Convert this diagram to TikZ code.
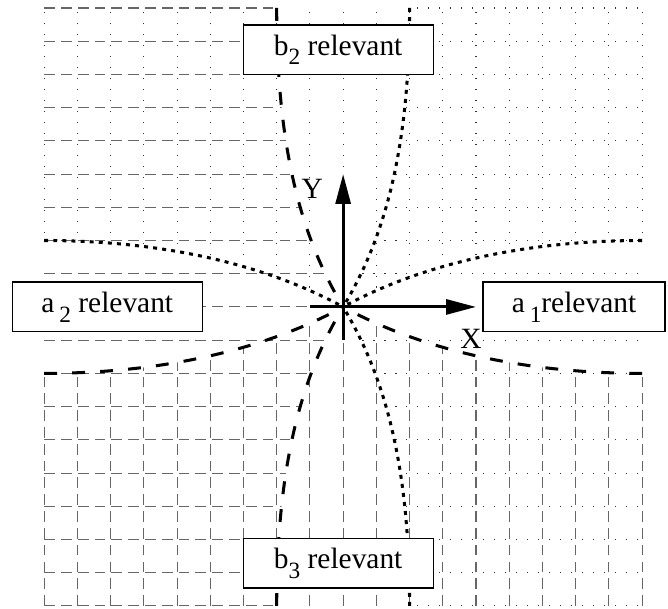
\documentclass[tikz,border=0pt]{standalone}
\usepackage{fontspec}
\setmainfont{Liberation Serif}
\usetikzlibrary{arrows.meta}
\newcommand{\subidx}[1]{\raisebox{-4.2pt}{\fontsize{10}{10}\selectfont #1}}
\begin{document}
\begin{tikzpicture}[x=0.5cm, y=0.5cm, >={Triangle[length=12.8pt,width=6.4pt]},
  font=\fontsize{12.6}{14}\selectfont,
  box/.style={draw, rectangle, fill=white, line width=0.5pt, minimum height=0.75cm, inner sep=0pt},
  griddash/.style={black!60, line width=0.45pt, dash pattern=on 4.6pt off 2.6pt},
  griddot/.style={black!80, line width=0.45pt, dash pattern=on 0.5pt off 4.2pt},
  bnddash/.style={line width=1.3pt, dash pattern=on 5.5pt off 6.5pt},
  bnddot/.style={line width=1.3pt, dash pattern=on 1.7pt off 2.2pt},
  axis/.style={->, line width=1.3pt}]
\useasboundingbox (-10.33,-9.09) rectangle (9.78,9.24);

\begin{scope}
\clip (-9.5,9.5) -- (-2,9.5) -- (-2,9) .. controls (-2,4.6) and (-1.2,2) .. (0,0)
  .. controls (-1.2,-2) and (-2,-4.6) .. (-2,-9) -- (-2,-9.5) -- (-9.5,-9.5) -- cycle;
\foreach \y in {-9,...,9} \draw[griddash] (-9,\y) -- (9,\y);
\end{scope}
\begin{scope}
\clip (9.5,9.5) -- (2,9.5) -- (2,9) .. controls (2,4.6) and (1.2,2) .. (0,0)
  .. controls (1.2,-2) and (2,-4.6) .. (2,-9) -- (2,-9.5) -- (9.5,-9.5) -- cycle;
\foreach \y in {-9,...,9} \draw[griddot] (-9,\y) -- (9,\y);
\end{scope}
\begin{scope}
\clip (-9.5,9.5) -- (-9.5,2) -- (-9,2) .. controls (-5,2) and (-2,1.1) .. (0,0)
  .. controls (2,1.1) and (5,2) .. (9,2) -- (9.5,2) -- (9.5,9.5) -- cycle;
\foreach \x in {-9,...,9} \draw[griddot] (\x,-9) -- (\x,9);
\end{scope}
\begin{scope}
\clip (-9.5,-9.5) -- (-9.5,-2) -- (-9,-2) .. controls (-5,-2) and (-2,-1.1) .. (0,0)
  .. controls (2,-1.1) and (5,-2) .. (9,-2) -- (9.5,-2) -- (9.5,-9.5) -- cycle;
\foreach \x in {-9,...,9} \draw[griddash] (\x,-9) -- (\x,9);
\end{scope}

\coordinate (O) at (0,0);
\coordinate (lt) at (-9,2);
\coordinate (lb) at (-9,-2);
\coordinate (rt) at (9,2);
\coordinate (rb) at (9,-2);
\coordinate (tl) at (-2,9);
\coordinate (tr) at (2,9);
\coordinate (bl) at (-2,-9);
\coordinate (br) at (2,-9);

\draw[bnddot] (lt) .. controls (-5,2) and (-2,1.1) .. (O);
\draw[bnddot] (rt) .. controls (5,2) and (2,1.1) .. (O);
\draw[bnddot] (tr) .. controls (2,4.6) and (1.2,2) .. (O);
\draw[bnddot] (br) .. controls (2,-4.6) and (1.2,-2) .. (O);
\draw[bnddash] (lb) .. controls (-5,-2) and (-2,-1.1) .. (O);
\draw[bnddash] (rb) .. controls (5,-2) and (2,-1.1) .. (O);
\draw[bnddash] (tl) .. controls (-2,4.6) and (-1.2,2) .. (O);
\draw[bnddash] (bl) .. controls (-2,-4.6) and (-1.2,-2) .. (O);

\coordinate (xs) at (-1,0);
\coordinate (xe) at (4,0);
\coordinate (ys) at (0,-1);
\coordinate (ye) at (0,4);
\draw[axis] (xs) -- (xe);
\draw[axis] (ys) -- (ye);
\node (ylab) at (-0.93,3.55) {Y};
\node (xlab) at (3.85,-0.95) {X};

\node[box, minimum width=2.86cm] (b2) at (-0.15,7.74) {b\subidx{2} relevant};
\node[box, minimum width=2.86cm] (b3) at (-0.15,-7.71) {b\subidx{3} relevant};
\node[box, minimum width=2.86cm] (a2) at (-7.1,0) {a\,\subidx{2} relevant};
\node[box, minimum width=2.74cm] (a1) at (6.95,0) {a\,\subidx{1}relevant};
\end{tikzpicture}
\end{document}
